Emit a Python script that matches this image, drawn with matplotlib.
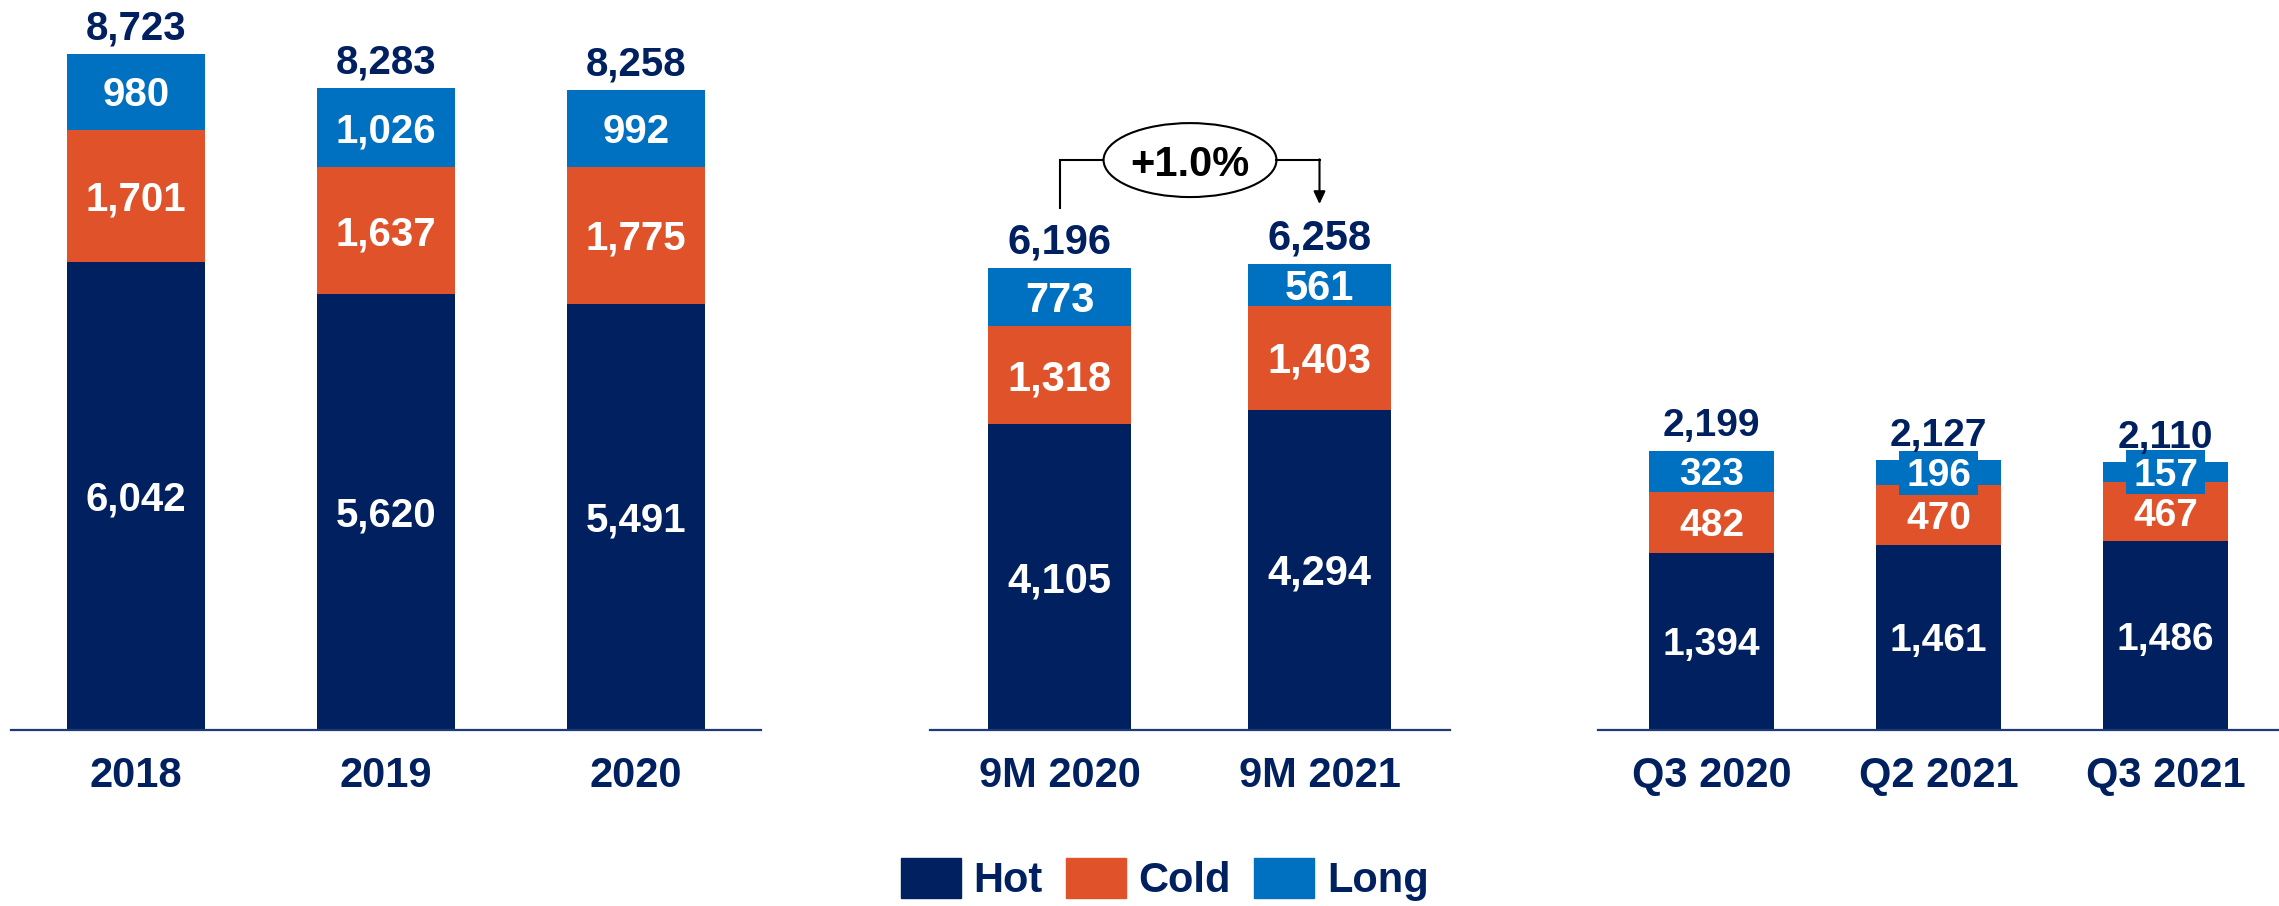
import matplotlib
matplotlib.use('Agg')
import matplotlib.pyplot as plt
import numpy as np
from matplotlib.patches import Ellipse, Patch, Rectangle
from matplotlib.transforms import IdentityTransform

# ---------------- data ----------------
series_names = ['Hot', 'Cold', 'Long']

cat_annual = ['2018', '2019', '2020']
hot_annual = [6042, 5620, 5491]
cold_annual = [1701, 1637, 1775]
long_annual = [980, 1026, 992]
total_annual = [8723, 8283, 8258]

cat_9m = ['9M 2020', '9M 2021']
hot_9m = [4105, 4294]
cold_9m = [1318, 1403]
long_9m = [773, 561]
total_9m = [6196, 6258]

cat_q = ['Q3 2020', 'Q2 2021', 'Q3 2021']
hot_q = [1394, 1461, 1486]
cold_q = [482, 470, 467]
long_q = [323, 196, 157]
total_q = [2199, 2127, 2110]

change_label = '+1.0%'

# ---------------- style ----------------
C_HOT = '#002060'
C_COLD = '#E0532A'
C_LONG = '#0070C0'
NAVY = '#002060'
AXIS_C = '#1F3A78'
FONT = ['Liberation Sans', 'DejaVu Sans']

W, H = 2279, 906
DPI = 100
fig = plt.figure(figsize=(W / DPI, H / DPI), dpi=DPI)

base_px = 730  # baseline from top
boxed = []  # (ax, text, x, ycenter, fontsize)


def make_ax(left_px, right_px):
    return fig.add_axes([left_px / W, (H - base_px) / H,
                         (right_px - left_px) / W, base_px / H])


def draw(ax, cats, hot, cold, lng, tot, ymax, fs, box_below=None):
    x = np.arange(len(cats))
    w = 0.55
    ax.bar(x, hot, w, color=C_HOT)
    ax.bar(x, cold, w, bottom=hot, color=C_COLD)
    b2 = np.add(hot, cold)
    ax.bar(x, lng, w, bottom=b2, color=C_LONG)
    cap = fs * 0.716
    for xi, h, c, l, t in zip(x, hot, cold, lng, tot):
        for base, v, is_long in ((0, h, False), (h, c, False), (h + c, l, True)):
            txt = ax.annotate(f'{v:,}', (xi, base + v / 2), xytext=(0, -cap / 2),
                              textcoords='offset points', ha='center',
                              va='baseline', color='white', fontsize=fs,
                              fontweight='bold', family=FONT, zorder=4)
            if is_long and box_below is not None and v < box_below:
                boxed.append((ax, txt, xi, base + v / 2, fs))
        ax.annotate(f'{t:,}', (xi, t), xytext=(0, 10.5),
                    textcoords='offset points', ha='center', va='baseline',
                    color=NAVY, fontsize=fs, fontweight='bold', family=FONT,
                    zorder=4)
    ax.set_xlim(-0.5, len(cats) - 0.5)
    ax.set_ylim(0, ymax)
    ax.set_xticks(x)
    ax.set_xticklabels(cats, fontsize=30, fontweight='bold', color=NAVY,
                       family=FONT)
    ax.tick_params(axis='x', length=0, pad=19)
    ax.set_yticks([])
    for s in ('top', 'left', 'right'):
        ax.spines[s].set_visible(False)
    ax.spines['bottom'].set_color(AXIS_C)
    ax.spines['bottom'].set_linewidth(1.6)
    ax.patch.set_alpha(0)


ax1 = make_ax(11, 761)
draw(ax1, cat_annual, hot_annual, cold_annual, long_annual, total_annual,
     9417, 29)

ax2 = make_ax(929.5, 1449.5)
draw(ax2, cat_9m, hot_9m, cold_9m, long_9m, total_9m, 9800, 30)

ax3 = make_ax(1598, 2279)
draw(ax3, cat_q, hot_q, cold_q, long_q, total_q, 5753, 28, box_below=250)

# ---------------- change bracket on 9M panel ----------------
y_br = 7651
y_left_end = 7007
y_tip = 7060
ell_w, ell_h = 0.665, 993
ax2.plot([0, 0, 0.5 - ell_w / 2], [y_left_end, y_br, y_br], color='black',
         lw=1.5, clip_on=False, solid_joinstyle='miter')
ax2.plot([0.5 + ell_w / 2, 1], [y_br, y_br], color='black', lw=1.5,
         clip_on=False)
ax2.annotate('', xy=(1, y_tip), xytext=(1, y_br + 10),
             arrowprops=dict(arrowstyle='-|>,head_length=0.75,head_width=0.35',
                             color='black', lw=1.5, shrinkA=0, shrinkB=0),
             annotation_clip=False)
ax2.add_patch(Ellipse((0.502, y_br), ell_w, ell_h, fc='white', ec='black',
                      lw=1.5, clip_on=False))
ax2.text(0.502, y_br, change_label, ha='center', va='center_baseline',
         fontsize=30, fontweight='bold', color='black', family=FONT)

# ---------------- legend ----------------
handles = [Patch(color=c) for c in (C_HOT, C_COLD, C_LONG)]
leg = fig.legend(handles, series_names, loc='center',
                 bbox_to_anchor=(0.511, 0.029), ncol=3, frameon=False,
                 prop=dict(family=FONT, weight='bold', size=30),
                 handlelength=1.44, handleheight=1.1, handletextpad=0.31,
                 columnspacing=0.55, borderpad=0, borderaxespad=0)
for t in leg.get_texts():
    t.set_color(NAVY)

# ---------------- background boxes for labels wider than thin segments ----
fig.canvas.draw()
renderer = fig.canvas.get_renderer()
for ax, txt, xi, yc, fs in boxed:
    bb = txt.get_window_extent(renderer)
    cx, cy = ax.transData.transform((xi, yc))
    em = fs * DPI / 72
    bw = bb.width + 14
    bh = 1.13 * em
    rect = Rectangle((cx - bw / 2, cy - bh / 2), bw, bh, fc=C_LONG, ec='none',
                     transform=IdentityTransform(), clip_on=False, zorder=3)
    ax.add_artist(rect)

fig.savefig('out.png', dpi=DPI)
